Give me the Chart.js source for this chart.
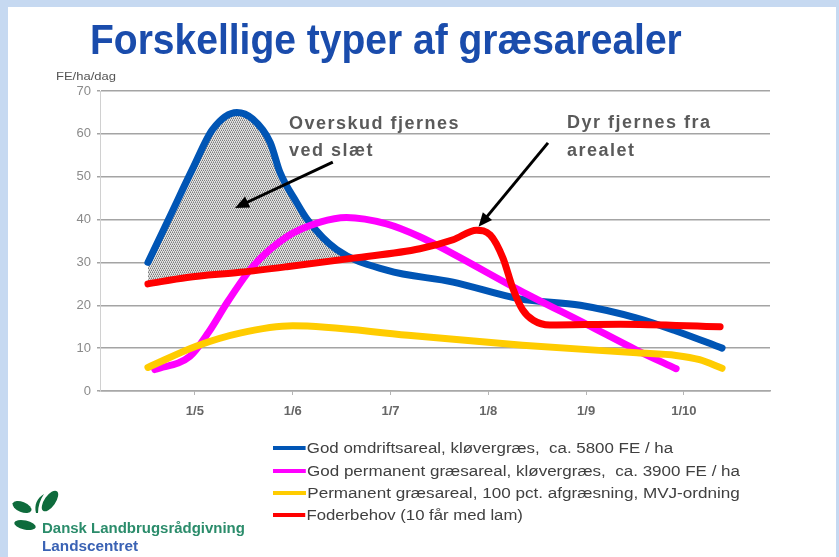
<!DOCTYPE html>
<html>
<head>
<meta charset="utf-8">
<script src="https://cdn.jsdelivr.net/npm/chart.js@4.4.1/dist/chart.umd.min.js"></script>
<style>
  body { margin: 0; width: 839px; height: 557px; overflow: hidden; background: #c6d9f1;
         font-family: "Liberation Sans", Arial, sans-serif; }
  #panel { position: absolute; left: 8px; top: 7px; width: 828px; height: 550px; background: #fff; }
  #graf { position: absolute; left: 0; top: 0; }
  .tekst { position: absolute; white-space: pre; line-height: 1; transform-origin: 0 50%; display: inline-block; }
  #titel { left: 90px; top: 18px; font-size: 43px; font-weight: bold; color: #1a4cac; }
  #enhed { left: 56px; top: 72px; font-size: 10px; color: #555; }
  .note { font-size: 18px; font-weight: bold; color: #5a5a5a; letter-spacing: 1.5px; }
  .leg { left: 273px; font-size: 14px; color: #404040; }
  .leg i { display: inline-block; width: 27px; height: 4px; vertical-align: middle; margin-right: 1px; position: relative; top: -1px; }
  #logo1 { left: 42px; top: 521px; font-size: 14px; font-weight: bold; color: #2b8c6b; }
  #logo2 { left: 42px; top: 539px; font-size: 14px; font-weight: bold; color: #3a62b4; }
</style>
</head>
<body>
<div id="panel"></div>
<canvas id="graf" width="839" height="557"></canvas>
<div class="tekst" id="titel">Forskellige typer af græsarealer</div>
<div class="tekst" id="enhed">FE/ha/dag</div>
<div class="tekst note" style="left:289px; top:114px">Overskud fjernes</div>
<div class="tekst note" style="left:289px; top:141px">ved slæt</div>
<div class="tekst note" style="left:567px; top:113px">Dyr fjernes fra</div>
<div class="tekst note" style="left:567px; top:141px">arealet</div>
<div id="legende"></div>
<svg style="position:absolute; left:0; top:0" width="70" height="540">
  <g fill="#0e6b3c">
    <ellipse cx="22" cy="507" rx="10" ry="5" transform="rotate(22 22 507)"/>
    <ellipse cx="25" cy="525" rx="11" ry="4.5" transform="rotate(12 25 525)"/>
    <ellipse cx="50" cy="501" rx="5.5" ry="12" transform="rotate(35 50 501)"/>
    <path d="M36 513 C34 505 37 498 44 494 C40 500 38 506 38 513 Z"/>
  </g>
</svg>
<div class="tekst" id="logo1">Dansk Landbrugsrådgivning</div>
<div class="tekst" id="logo2">Landscentret</div>
<script>
// x = maaned (5 = 1. maj), y = FE/ha/dag
const maanedTicks = [5, 6, 7, 8, 9, 10];
const maanedLabels = ['1/5', '1/6', '1/7', '1/8', '1/9', '1/10'];

const omdriftX = [4.52, 4.74, 4.98, 5.18, 5.43, 5.59, 5.77, 5.87, 6.04, 6.15, 6.45, 6.96, 7.64, 8.32, 8.94, 9.52, 9.92, 10.39];
const omdriftY = [30, 40.5, 52, 61, 65, 63.5, 58, 51, 44, 40, 33, 28.2, 25.4, 21.5, 20, 17, 14, 10];

const permanentX = [4.59, 4.95, 5.14, 5.34, 5.59, 5.94, 6.28, 6.55, 6.96, 7.30, 7.64, 8.32, 9.01, 9.52, 9.92];
const permanentY = [5, 8.1, 13.7, 21, 29, 36, 39.4, 40.5, 39, 36, 32, 23.5, 15.5, 9.5, 5.2];

const mvjX = [4.52, 5.02, 5.46, 6.00, 7.18, 8.35, 9.52, 9.92, 10.16, 10.39];
const mvjY = [5.5, 10.5, 13.5, 15.2, 13, 10.7, 8.9, 8.3, 7.3, 5.3];

const foderX = [4.52, 4.92, 5.46, 5.94, 6.62, 7.30, 7.64, 7.88, 8.02, 8.15, 8.25, 8.35, 8.46, 8.63, 9.35, 10.37];
const foderY = [25, 26.5, 27.7, 29, 31, 33.2, 35.3, 37.5, 36.4, 31, 24, 19, 16.5, 15.4, 15.6, 15];

const serieNavne = [
  'God omdriftsareal, kløvergræs,  ca. 5800 FE / ha',
  'God permanent græsareal, kløvergræs,  ca. 3900 FE / ha',
  'Permanent græsareal, 100 pct. afgræsning, MVJ-ordning',
  'Foderbehov (10 får med lam)'
];
const serieFarver = ['#0055b5', '#ff00ff', '#ffcc00', '#ff0000'];

// skraveret overskud mellem omdrift og foderbehov, kun frem til denne maaned
const overskudTil = 7.5;

const pile = [
  { fra: [6.41, 53.4], til: [5.41, 42.7] },
  { fra: [8.61, 57.9], til: [7.90, 38.3] }
];

const punkter = (xs, ys) => xs.map((x, i) => ({ x: x, y: ys[i] }));

function lavSkravering(bredde) {
  const c = document.createElement('canvas');
  c.width = Math.max(1, Math.round(bredde));
  c.height = 4;
  const g = c.getContext('2d');
  g.fillStyle = '#e2e2e2';
  g.fillRect(0, 0, c.width, 4);
  for (let i = 0; i < c.width; i += 4) {
    g.fillStyle = '#7c7c7c';
    g.fillRect(i, 0, 1, 1); g.fillRect(i + 2, 0, 1, 1);
    g.fillRect(i + 1, 2, 1, 1); g.fillRect(i + 3, 2, 1, 1);
    g.fillStyle = '#ababab';
    g.fillRect(i + 1, 1, 1, 1); g.fillRect(i + 3, 1, 1, 1);
    g.fillRect(i, 3, 1, 1); g.fillRect(i + 2, 3, 1, 1);
  }
  return document.getElementById('graf').getContext('2d').createPattern(c, 'repeat-y');
}

const pilePlugin = {
  id: 'pile',
  afterDatasetsDraw(chart) {
    const { ctx, scales: { x, y } } = chart;
    pile.forEach(p => {
      const x1 = x.getPixelForValue(p.fra[0]), y1 = y.getPixelForValue(p.fra[1]);
      const x2 = x.getPixelForValue(p.til[0]), y2 = y.getPixelForValue(p.til[1]);
      const a = Math.atan2(y2 - y1, x2 - x1);
      const c = Math.cos(a), s = Math.sin(a);
      ctx.save();
      ctx.strokeStyle = '#000';
      ctx.fillStyle = '#000';
      ctx.lineWidth = 3;
      ctx.beginPath();
      ctx.moveTo(x1, y1);
      ctx.lineTo(x2 - 10 * c, y2 - 10 * s);
      ctx.stroke();
      ctx.beginPath();
      ctx.moveTo(x2, y2);
      ctx.lineTo(x2 - 14 * c + 6 * s, y2 - 14 * s - 6 * c);
      ctx.lineTo(x2 - 14 * c - 6 * s, y2 - 14 * s + 6 * c);
      ctx.closePath();
      ctx.fill();
      ctx.restore();
    });
  }
};

const linje = (i, data, ekstra) => Object.assign({
  label: serieNavne[i],
  data: data,
  borderColor: serieFarver[i],
  backgroundColor: serieFarver[i],
  borderWidth: 7,
  borderCapStyle: 'round',
  borderJoinStyle: 'round',
  pointRadius: 0,
  cubicInterpolationMode: 'monotone',
  fill: false,
  order: 4 - i
}, ekstra || {});

const chart = new Chart(document.getElementById('graf'), {
  type: 'line',
  data: {
    datasets: [
      linje(0, punkter(omdriftX, omdriftY), { fill: { target: 3, above: 'transparent', below: 'transparent' } }),
      linje(1, punkter(permanentX, permanentY)),
      linje(2, punkter(mvjX, mvjY)),
      linje(3, punkter(foderX, foderY))
    ]
  },
  options: {
    responsive: false,
    animation: false,
    layout: { padding: { left: 0, top: 91, right: 69, bottom: 0 } },
    plugins: { legend: { display: false }, tooltip: { enabled: false } },
    scales: {
      x: {
        type: 'linear',
        min: 4.03,
        max: 10.88,
        afterBuildTicks: s => { s.ticks = maanedTicks.map(v => ({ value: v })); },
        afterFit: s => { s.height = 166; },
        grid: { drawOnChartArea: false, tickLength: 4, color: '#b5b5b5' },
        border: { color: '#a8a8a8', width: 1.5 },
        ticks: {
          padding: 9,
          color: '#666',
          font: { family: 'Liberation Sans', size: 13, weight: 'bold' },
          callback: v => maanedLabels[maanedTicks.indexOf(v)]
        }
      },
      y: {
        min: 0,
        max: 70,
        afterFit: s => { s.width = 100; },
        grid: { color: '#a4a4a4', lineWidth: 1.5, tickLength: 3 },
        border: { color: '#d0d0d0', width: 1 },
        ticks: {
          stepSize: 10,
          padding: 6,
          color: '#8a8a8a',
          font: { family: 'Liberation Sans', size: 13 }
        }
      }
    }
  },
  plugins: [pilePlugin]
});

// skravering naar x-aksen er lagt ud
chart.data.datasets[0].fill.above = lavSkravering(chart.scales.x.getPixelForValue(overskudTil));
chart.update();

// legende
const legende = document.getElementById('legende');
const legTop = [441, 464, 486, 508];
const legBredde = [400, 467, 467, 250];
serieNavne.forEach((navn, i) => {
  const d = document.createElement('div');
  d.className = 'tekst leg';
  d.style.top = legTop[i] + 'px';
  d.innerHTML = '<i style="background:' + serieFarver[i] + '"></i>' + navn;
  legende.appendChild(d);
});

function tilpas(el, bredde) {
  const w = el.getBoundingClientRect().width;
  el.style.transform = 'scaleX(' + (bredde / w).toFixed(3) + ')';
}
tilpas(document.getElementById('titel'), 592);
tilpas(document.getElementById('enhed'), 60);
tilpas(document.getElementById('logo1'), 203);
tilpas(document.getElementById('logo2'), 96);
Array.from(legende.children).forEach((el, i) => tilpas(el, legBredde[i]));
</script>
</body>
</html>
